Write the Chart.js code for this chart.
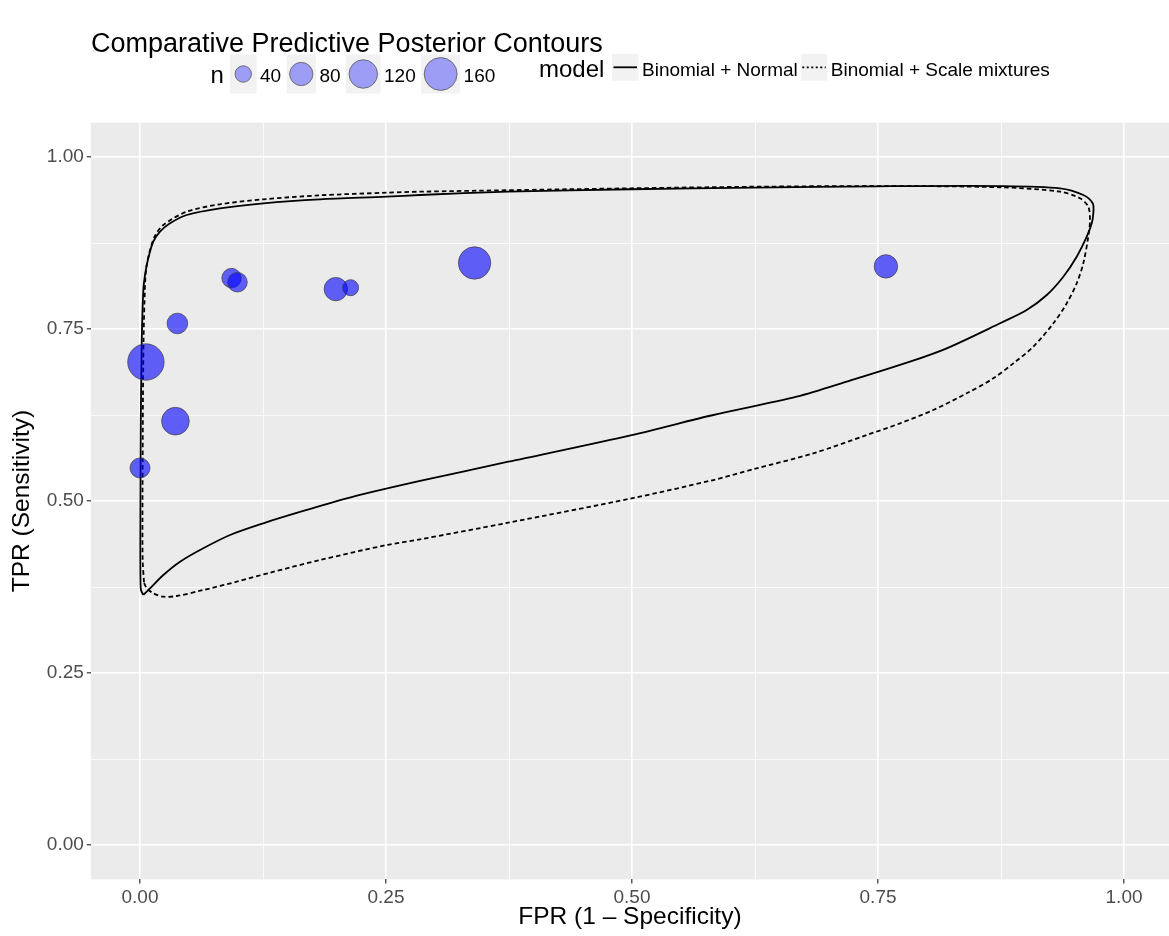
<!DOCTYPE html>
<html>
<head>
<meta charset="utf-8">
<script src="https://cdn.jsdelivr.net/npm/chart.js@4.4.1/dist/chart.umd.min.js"></script>
<style>
  html, body { margin: 0; padding: 0; background: #ffffff; overflow: hidden; }
  #myChart { display: block; }
</style>
</head>
<body>
<canvas id="myChart" width="1169" height="936"></canvas>
<script>
// studies (FPR, TPR, sample size)
const studyFpr = [0.093, 0.099, 0.199, 0.214, 0.340, 0.038, 0.006, 0.036, 0.000, 0.758];
const studyTpr = [0.824, 0.818, 0.808, 0.810, 0.846, 0.758, 0.702, 0.616, 0.548, 0.841];
const studyN = [56, 57, 81, 38, 155, 63, 196, 113, 59, 81];

// predictive posterior contour, Binomial + Normal
const normalFpr = [0.0034, 0.0102, 0.0237, 0.0407, 0.0643, 0.0915, 0.1253, 0.1660, 0.2168, 0.2846,
  0.3743, 0.4997, 0.5826, 0.6674, 0.7215, 0.7825, 0.8198, 0.8740, 0.9011, 0.9215,
  0.9383, 0.9519, 0.9621, 0.9672, 0.9688, 0.9682, 0.9586, 0.9350, 0.8740, 0.7496,
  0.6244, 0.4992, 0.3740, 0.2846, 0.2507, 0.1829, 0.1253, 0.0813, 0.0475, 0.0305,
  0.0203, 0.0135, 0.0084, 0.0051, 0.0034, 0.0020, 0.0015, 0.0008, 0.0005, 0.0003,
  0.0005, 0.0010];
const normalTpr = [0.3634, 0.3731, 0.3924, 0.4118, 0.4313, 0.4506, 0.4676, 0.4855, 0.5063, 0.5291,
  0.5571, 0.5959, 0.6250, 0.6516, 0.6749, 0.7025, 0.7219, 0.7583, 0.7776, 0.7994,
  0.8260, 0.8551, 0.8842, 0.9036, 0.9182, 0.9327, 0.9448, 0.9545, 0.9578, 0.9574,
  0.9554, 0.9531, 0.9496, 0.9448, 0.9423, 0.9385, 0.9327, 0.9254, 0.9157, 0.9036,
  0.8914, 0.8769, 0.8528, 0.8285, 0.8067, 0.7485, 0.7049, 0.6177, 0.5305, 0.4288,
  0.3852, 0.3706];

// predictive posterior contour, Binomial + Scale mixtures
const scaleFpr = [0.0041, 0.0068, 0.0135, 0.0237, 0.0373, 0.0643, 0.0983, 0.1321, 0.1829, 0.2507,
  0.2846, 0.3743, 0.4997, 0.5826, 0.6243, 0.6842, 0.7385, 0.7724, 0.8062, 0.8401,
  0.8672, 0.8875, 0.9078, 0.9282, 0.9418, 0.9519, 0.9586, 0.9637, 0.9654, 0.9637,
  0.9553, 0.9350, 0.8740, 0.7496, 0.6244, 0.4990, 0.2846, 0.2507, 0.1829, 0.1253,
  0.0813, 0.0475, 0.0237, 0.0152, 0.0102, 0.0061, 0.0046, 0.0036, 0.0030, 0.0027,
  0.0025, 0.0027];
const scaleTpr = [0.3808, 0.3735, 0.3658, 0.3609, 0.3619, 0.3706, 0.3827, 0.3958, 0.4142, 0.4360,
  0.4443, 0.4685, 0.5039, 0.5305, 0.5465, 0.5693, 0.5959, 0.6129, 0.6323, 0.6565,
  0.6783, 0.7001, 0.7243, 0.7583, 0.7874, 0.8164, 0.8455, 0.8842, 0.9084, 0.9278,
  0.9400, 0.9496, 0.9560, 0.9578, 0.9568, 0.9545, 0.9496, 0.9481, 0.9443, 0.9385,
  0.9313, 0.9205, 0.9012, 0.8852, 0.8648, 0.8358, 0.7922, 0.7340, 0.6468, 0.5596,
  0.4724, 0.4142];

// axes
const gridValues = [0, 0.125, 0.25, 0.375, 0.5, 0.625, 0.75, 0.875, 1];
const tickLabels = ['0.00', '0.25', '0.50', '0.75', '1.00'];
const legendN = [40, 80, 120, 160];
const modelNames = ['Binomial + Normal', 'Binomial + Scale mixtures'];
const plotTitle = 'Comparative Predictive Posterior Contours';

const FONT = '"Liberation Sans", Arial, Helvetica, sans-serif';

// bubble area proportional to n
function sizeOf(n) {
  return 1.3 * Math.sqrt(n);
}

function closedPath(xs, ys) {
  const pts = xs.map((x, i) => ({x: x, y: ys[i]}));
  pts.push(pts[0]);
  return pts;
}

const panelBg = {
  id: 'panelBg',
  beforeDraw(chart) {
    const {ctx, chartArea: a} = chart;
    ctx.save();
    ctx.fillStyle = '#ebebeb';
    ctx.fillRect(a.left, a.top, a.right - a.left, a.bottom - a.top);
    ctx.restore();
  }
};

const ggLegend = {
  id: 'ggLegend',
  afterDraw(chart) {
    const ctx = chart.ctx;
    ctx.save();
    ctx.textBaseline = 'alphabetic';
    ctx.textAlign = 'left';

    // title
    ctx.fillStyle = '#000000';
    ctx.font = '27px ' + FONT;
    ctx.fillText(plotTitle, 91, 52);

    // size legend
    ctx.font = '24px ' + FONT;
    ctx.fillText('n', 210.5, 83);
    let x = 230;
    legendN.forEach(n => {
      const r = sizeOf(n);
      const w = Math.max(26.5, 2 * r + 6);
      ctx.fillStyle = '#f2f2f2';
      ctx.fillRect(x, 54.5, w, 39);
      ctx.beginPath();
      ctx.arc(x + w / 2, 74, r, 0, Math.PI * 2);
      ctx.fillStyle = 'rgba(0, 0, 255, 0.35)';
      ctx.fill();
      ctx.strokeStyle = 'rgba(90, 90, 90, 0.8)';
      ctx.lineWidth = 1;
      ctx.stroke();
      ctx.fillStyle = '#000000';
      ctx.font = '19px ' + FONT;
      const label = String(n);
      ctx.fillText(label, x + w + 3.5, 81.5);
      x += w + 3.5 + ctx.measureText(label).width + 5.5;
    });

    // linetype legend
    ctx.font = '24px ' + FONT;
    ctx.fillStyle = '#000000';
    ctx.fillText('model', 539, 77);
    x = 612;
    modelNames.forEach((name, i) => {
      ctx.fillStyle = '#f2f2f2';
      ctx.fillRect(x, 54, 26.5, 26.7);
      ctx.beginPath();
      ctx.setLineDash(i === 0 ? [] : [2, 2.5]);
      ctx.moveTo(x + 1.5, 67.3);
      ctx.lineTo(x + 25, 67.3);
      ctx.strokeStyle = '#000000';
      ctx.lineWidth = 1.8;
      ctx.stroke();
      ctx.setLineDash([]);
      ctx.fillStyle = '#000000';
      ctx.font = '19px ' + FONT;
      ctx.fillText(name, x + 30, 75.5);
      x += 30 + ctx.measureText(name).width + 3;
    });
    ctx.restore();
  }
};

function axisOptions(min, max, title, titlePadding) {
  return {
    type: 'linear',
    min: min,
    max: max,
    afterBuildTicks: scale => {
      scale.ticks = gridValues.map(v => ({value: v}));
    },
    ticks: {
      autoSkip: false,
      maxRotation: 0,
      padding: 3,
      color: '#4d4d4d',
      font: {family: FONT, size: 19},
      callback: (v, i) => (i % 2 === 0 ? tickLabels[i / 2] : '')
    },
    grid: {
      color: '#ffffff',
      lineWidth: c => (c.index % 2 === 0 ? 1.6 : 0.8),
      drawTicks: true,
      tickLength: 4,
      tickWidth: 1.2,
      tickColor: c => (c.index % 2 === 0 ? '#333333' : 'rgba(0,0,0,0)')
    },
    border: {display: false},
    title: {
      display: true,
      text: title,
      color: '#000000',
      font: {family: FONT, size: 24.5},
      padding: titlePadding
    }
  };
}

// no extra room for edge labels: the panel runs off the right edge, as in the reference
function noEdgePadding(scale) {
  scale.paddingLeft = 0;
  scale.paddingRight = 0;
  scale.paddingTop = 0;
  scale.paddingBottom = 0;
}

const xAxis = axisOptions(-0.05, 1.0457, 'FPR (1 \u2013 Specificity)', {top: 0, bottom: 4});
xAxis.afterFit = scale => { scale.height = 56.6; noEdgePadding(scale); };
const yAxis = axisOptions(-0.05, 1.05, 'TPR (Sensitivity)', {top: 8, bottom: 0});
yAxis.afterFit = scale => { scale.width = 90.8; noEdgePadding(scale); };

const ctx = document.getElementById('myChart').getContext('2d');
const myChart = new Chart(ctx, {
  type: 'scatter',
  data: {
    datasets: [
      {
        label: 'studies',
        order: 0,
        data: studyFpr.map((x, i) => ({x: x, y: studyTpr[i]})),
        pointRadius: c => sizeOf(studyN[c.dataIndex]),
        pointHoverRadius: c => sizeOf(studyN[c.dataIndex]),
        pointBackgroundColor: 'rgba(0, 0, 255, 0.6)',
        pointBorderColor: 'rgba(60, 60, 60, 0.7)',
        pointBorderWidth: 1
      },
      {
        label: modelNames[0],
        order: 1,
        data: closedPath(normalFpr, normalTpr),
        showLine: true,
        pointRadius: 0,
        pointHoverRadius: 0,
        borderColor: '#000000',
        borderWidth: 1.8,
        tension: 0.3,
        fill: false
      },
      {
        label: modelNames[1],
        order: 2,
        data: closedPath(scaleFpr, scaleTpr),
        showLine: true,
        pointRadius: 0,
        pointHoverRadius: 0,
        borderColor: '#000000',
        borderWidth: 1.8,
        borderDash: [4.5, 3],
        tension: 0.3,
        fill: false
      }
    ]
  },
  options: {
    responsive: false,
    maintainAspectRatio: false,
    devicePixelRatio: 1,
    animation: false,
    events: [],
    layout: {autoPadding: false, padding: {top: 122.6, left: 0, right: 0, bottom: 0}},
    plugins: {
      legend: {display: false},
      tooltip: {enabled: false}
    },
    scales: {
      x: xAxis,
      y: yAxis
    }
  },
  plugins: [panelBg, ggLegend]
});
</script>
</body>
</html>
